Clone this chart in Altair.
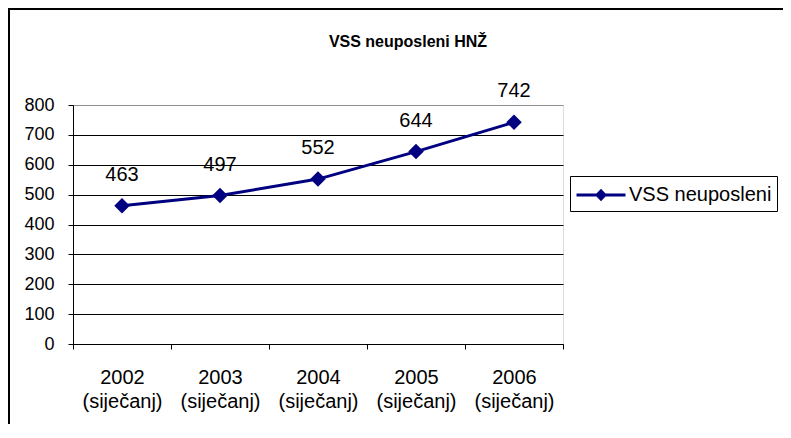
import altair as alt
import pandas as pd

years = ["2002", "2003", "2004", "2005", "2006"]
months = ["(siječanj)", "(siječanj)", "(siječanj)", "(siječanj)", "(siječanj)"]
values = [463, 497, 552, 644, 742]
series_name = "VSS neuposleni"
title_text = "VSS neuposleni HNŽ"
y_ticks = [0, 100, 200, 300, 400, 500, 600, 700, 800]

df = pd.DataFrame({
    "cat": [f"{y}|{m}" for y, m in zip(years, months)],
    "value": values,
    "series": [series_name] * len(years),
})

NAVY = "#000080"
FONT = "Liberation Sans"

x_enc = alt.X(
    "cat:O",
    sort=None,
    title=None,
    scale=alt.Scale(type="band", paddingInner=0, paddingOuter=0),
    axis=alt.Axis(
        labelExpr="split(datum.label, '|')",
        labelAngle=0,
        labelFont=FONT,
        labelFontSize=20,
        labelColor="black",
        labelLineHeight=24,
        labelPadding=18,
        labelBaseline="top",
        tickBand="extent",
        tickColor="black",
        tickSize=5,
        domainColor="black",
        grid=False,
    ),
)
y_enc = alt.Y(
    "value:Q",
    title=None,
    scale=alt.Scale(domain=[0, 800], nice=False),
    axis=alt.Axis(
        values=y_ticks,
        labelOverlap=False,
        labelFont=FONT,
        labelFontSize=18,
        labelColor="black",
        labelPadding=14,
        tickColor="black",
        tickSize=5,
        domainColor="black",
        grid=True,
        gridColor=alt.ExprRef(expr="datum.value == 800 ? '#909090' : 'black'"),
        gridOpacity=1,
    ),
)

base = alt.Chart(df)

line = base.mark_line(strokeWidth=3, color=NAVY).encode(
    x=x_enc,
    y=y_enc,
    color=alt.Color(
        "series:N",
        scale=alt.Scale(range=[NAVY]),
        legend=alt.Legend(
            title=None,
            orient="none",
            legendX=497,
            legendY=71,
            symbolType="M-2,0L2,0M-0.32,0L0,-0.34L0.32,0L0,0.34Z",
            symbolSize=600,
            symbolStrokeWidth=3,
            symbolFillColor=NAVY,
            symbolStrokeColor=NAVY,
            symbolOffset=12,
            labelOffset=14,
            labelFont=FONT,
            labelFontSize=20,
            labelColor="black",
            strokeColor="black",
            padding=5,
        ),
    ),
)

points = base.mark_point(shape="diamond", filled=True, size=240, color=NAVY, opacity=1).encode(
    x=x_enc,
    y=y_enc,
)

labels = base.mark_text(dy=-31, fontSize=20, font=FONT, color="black").encode(
    x=x_enc,
    y=y_enc,
    text="value:Q",
)

frame_data = alt.Data(values=[{"k": 1}])
left_border = alt.Chart(frame_data).mark_rule(color="black", strokeWidth=2).encode(
    x=alt.value(-64), y=alt.value(-97), y2=alt.value(340)
)
top_border = alt.Chart(frame_data).mark_rule(color="black", strokeWidth=2).encode(
    x=alt.value(-65), x2=alt.value(730), y=alt.value(-96)
)

chart = alt.layer(line, points, labels, left_border, top_border).properties(
    width=490,
    height=239,
    title=alt.TitleParams(
        text=title_text,
        font=FONT,
        fontSize=16,
        fontWeight="bold",
        color="black",
        anchor="middle",
        baseline="middle",
        dx=90,
        offset=-51,
    ),
    autosize=alt.AutoSizeParams(type="none"),
    padding={"left": 65, "top": 97, "right": 220, "bottom": 80},
).configure_view(stroke="#909090", strokeWidth=1).configure(background="white")

chart.save("out.html", embed_options={"renderer": "svg", "actions": False})
